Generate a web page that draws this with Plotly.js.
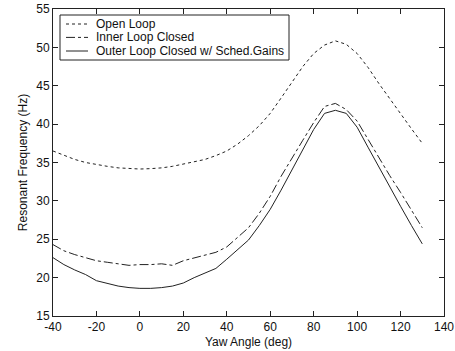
<!DOCTYPE html>
<html>
<head>
<meta charset="utf-8">
<script src="https://cdn.plot.ly/plotly-3.0.1.min.js"></script>
<style>html,body{margin:0;padding:0;background:#fff;}#chart{width:455px;height:351px;}</style>
</head>
<body>
<div id="chart"></div>
<script>
const yawAngle = [-40,-35,-30,-25,-20,-15,-10,-5,0,5,10,15,20,25,30,35,40,45,50,55,60,65,70,75,80,85,90,95,100,105,110,115,120,125,130];
const openLoop = [36.5,35.9,35.4,35.0,34.7,34.5,34.3,34.2,34.15,34.2,34.3,34.5,34.8,35.1,35.4,35.9,36.5,37.4,38.5,39.8,41.4,43.4,45.5,47.5,49.2,50.3,50.85,50.4,49.2,47.4,45.3,43.3,41.3,39.4,37.5];
const innerLoop = [24.3,23.5,23.0,22.6,22.2,22.0,21.8,21.6,21.7,21.7,21.8,21.6,22.2,22.6,22.9,23.3,24.0,25.2,26.5,28.4,30.6,33.2,35.6,37.9,40.2,42.3,42.7,41.9,40.4,38.0,35.6,33.3,31.1,28.8,26.5];
const outerLoop = [22.6,21.7,21.0,20.4,19.6,19.2,18.9,18.7,18.6,18.6,18.7,18.9,19.3,20.0,20.6,21.2,22.4,23.6,24.9,26.8,28.9,31.4,34.1,36.8,39.3,41.4,41.8,41.4,39.6,37.0,34.4,31.7,29.3,26.8,24.4];
const seriesNames = ["Open Loop","Inner Loop Closed","Outer Loop Closed w/ Sched.Gains"];
const seriesDash = ['dot','dashdot','solid'];
const xTicks = [-40,-20,0,20,40,60,80,100,120,140];
const yTicks = [15,20,25,30,35,40,45,50,55];

const W = 455, H = 351;
const M = {l: 53, r: 11, t: 9, b: 35};
const PW = W - M.l - M.r, PH = H - M.t - M.b;
const fx = px => (px - M.l) / PW;
const fy = py => (H - M.b - py) / PH;

const lineColor = '#222';
const fontFam = 'Liberation Sans, Arial, sans-serif';
const seriesY = [openLoop, innerLoop, outerLoop];
const traces = seriesY.map((ys, i) => ({
  x: yawAngle, y: ys, name: seriesNames[i], mode: 'lines', showlegend: false,
  line: {color: lineColor, width: 1, dash: seriesDash[i]}
}));

// Legend drawn as a box with sample lines and labels
const shapes = [{type: 'rect', xref: 'paper', yref: 'paper', x0: fx(60), x1: fx(289), y0: fy(60), y1: fy(15),
  line: {color: '#222', width: 1}, fillcolor: '#fff', layer: 'above'}];
const annotations = [];
const rowY = [24, 37.4, 51];
seriesNames.forEach((nm, i) => {
  shapes.push({type: 'line', xref: 'paper', yref: 'paper', x0: fx(66), x1: fx(88), y0: fy(rowY[i]), y1: fy(rowY[i]),
    line: {color: lineColor, width: 1, dash: seriesDash[i]}, layer: 'above'});
  annotations.push({xref: 'paper', yref: 'paper', x: fx(94), y: fy(rowY[i]), xanchor: 'left', yanchor: 'middle',
    text: nm, showarrow: false, font: {family: fontFam, size: 12, color: '#111'}});
});

const axisCommon = {
  showgrid: false, zeroline: false, showline: true, linecolor: '#222', linewidth: 1,
  mirror: 'ticks', ticks: 'inside', ticklen: 5, tickcolor: '#222', tickwidth: 1,
  tickfont: {family: fontFam, size: 12, color: '#111'}
};
const layout = {
  width: W, height: H, margin: M,
  paper_bgcolor: '#fff', plot_bgcolor: '#fff',
  font: {family: fontFam, size: 12, color: '#111'},
  showlegend: false,
  shapes: shapes, annotations: annotations,
  xaxis: Object.assign({}, axisCommon, {range: [-40, 140], tickvals: xTicks, ticktext: xTicks.map(String),
    title: {text: 'Yaw Angle (deg)', standoff: 4, font: {family: fontFam, size: 12, color: '#111'}}}),
  yaxis: Object.assign({}, axisCommon, {range: [15, 55], tickvals: yTicks, ticktext: yTicks.map(String),
    title: {text: 'Resonant Frequency (Hz)', standoff: 6, font: {family: fontFam, size: 12, color: '#111'}}})
};
Plotly.newPlot('chart', traces, layout, {displayModeBar: false, staticPlot: true});
</script>
</body>
</html>
